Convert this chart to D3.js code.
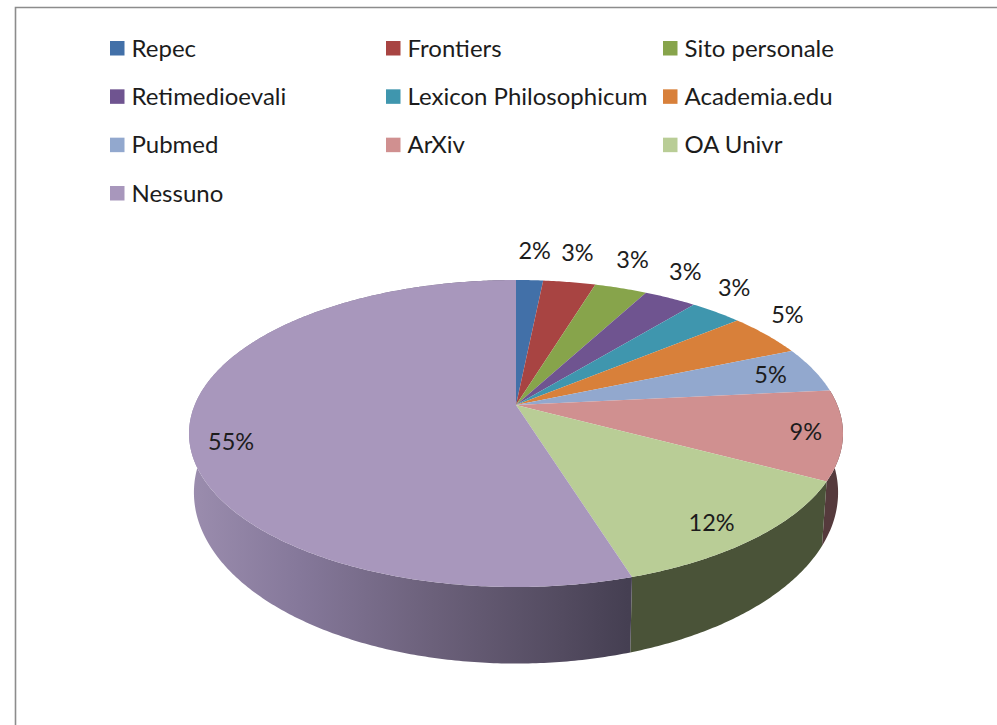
<!DOCTYPE html>
<html><head><meta charset="utf-8">
<script src="https://cdn.jsdelivr.net/npm/d3@7/dist/d3.min.js"></script>
<style>html,body{margin:0;padding:0;background:#fff}svg{display:block}</style>
</head><body><svg id="c" width="997" height="725"></svg>
<script>
const categories = ["Repec","Frontiers","Sito personale","Retimedioevali","Lexicon Philosophicum","Academia.edu","Pubmed","ArXiv","OA Univr","Nessuno"];
const shares = [1.6,3.1,3.1,3.1,3.1,4.6,4.8,9.4,12.4,54.8];
const topColors = ["#4270a8","#a84442","#87a44b","#6f5490","#3f96ae","#d8803a","#92a8ce","#d09090","#b9cd96","#a897bc"];
const wallColors = ["#25405f","#5c2625","#4c5c2a","#3e2f51","#235462","#7a4820","#525f74","#553a3c","#4a5338","#6f6480"];

const svg = d3.select("#c");
const cx = 516, apexY = 405, k = -0.1857, A = 321.3, B = 148.2;
const rimMidY = 433, baseMidY = 492, shrinkX = 0.985, stretchY = 1.114;

function rim(theta, r=1){
  const u = r*Math.sin(theta), v = -r*Math.cos(theta), d = 1 + k*v;
  return [cx + A*u/d, apexY + B*v/d];
}
function base(theta){
  const p = rim(theta);
  return [cx + (p[0]-cx)*shrinkX, baseMidY + (p[1]-rimMidY)*stretchY];
}
const line = d3.line();
const arcs = d3.pie().sort(null).value(d=>d)(shares);
function steps(a0,a1){ const n = Math.max(2,Math.ceil((a1-a0)/0.01)); return d3.range(n+1).map(i=>a0+(a1-a0)*i/n); }

// frame: top and left edges only
svg.append("path").attr("d","M15.5,725V7.5H997").attr("fill","none").attr("stroke","#8c8c8c").attr("stroke-width",1.6);

// gradient for the large wall
const grad = svg.append("defs").append("linearGradient").attr("id","wall").attr("gradientUnits","userSpaceOnUse")
  .attr("x1",190).attr("x2",628).attr("y1",0).attr("y2",0);
[[0,"#9b8dae"],[0.25,"#85789a"],[0.55,"#6c617b"],[0.85,"#534b60"],[1,"#453f52"]].forEach(s=>grad.append("stop").attr("offset",s[0]).attr("stop-color",s[1]));

// walls: back to front
const walls = svg.append("g");
arcs.forEach((a,i)=>{
  if (a.endAngle < Math.PI/2) return;
  const t = steps(a.startAngle,a.endAngle);
  const pts = t.map(x=>rim(x)).concat(t.slice().reverse().map(x=>base(x)));
  walls.append("path").attr("d",line(pts)+"Z")
    .attr("fill", i===categories.length-1 ? "url(#wall)" : wallColors[i]);
});

// top face
const face = svg.append("g");
arcs.forEach((a,i)=>{
  const pts = [rim(0,0)].concat(steps(a.startAngle,a.endAngle).map(t=>rim(t)));
  face.append("path").attr("d",line(pts)+"Z").attr("fill",topColors[i]);
});

// data labels
const fmt = d3.format(".0f");
const insideRadius = v => v < 5 ? 0.85 : v < 10 ? 0.89 : v < 20 ? 0.87 : 0.88;
const insideFraction = v => v < 10 ? 0.5 : v < 20 ? 0.545 : 0.465;
const labels = svg.append("g").attr("font-family","Lato,sans-serif").attr("font-size",23.5).attr("fill","#1c1c1c").attr("text-anchor","middle");
arcs.forEach((a,i)=>{
  let p;
  if (a.value < 4.7) {
    const m = (a.startAngle+a.endAngle)/2;
    const q = rim(m);
    p = [q[0]+4+20*Math.sin(m), q[1]-10-20*Math.cos(m)];
  } else {
    p = rim(a.startAngle + (a.endAngle-a.startAngle)*insideFraction(a.value), insideRadius(a.value));
  }
  labels.append("text").attr("x",p[0]).attr("y",p[1]).attr("dy","0.36em").text(fmt(a.value)+"%");
});

// legend
const perRow = 3;
const colX = d3.scaleOrdinal().domain([0,1,2]).range([110,386,663]);
const rowY = d3.scalePoint().domain([0,1,2,3]).range([48,193]);
const leg = svg.append("g").attr("font-family","Lato,sans-serif").attr("font-size",24).attr("fill","#1c1c1c");
categories.forEach((c,i)=>{
  const x = colX(i%perRow), y = rowY(Math.floor(i/perRow));
  leg.append("rect").attr("x",x).attr("y",y-7).attr("width",14.5).attr("height",14.5).attr("fill",topColors[i]);
  leg.append("text").attr("x",x+21.5).attr("y",y).attr("dy","0.36em").text(c);
});
</script></body></html>
